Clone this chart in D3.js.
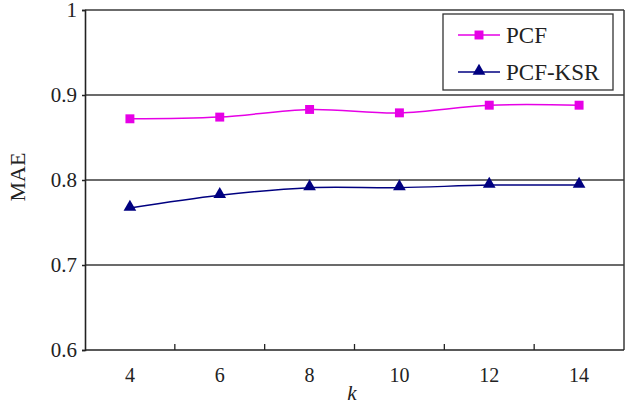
<!DOCTYPE html>
<html>
<head>
<meta charset="utf-8">
<script src="https://cdn.jsdelivr.net/npm/d3@7"></script>
<style>
  body { margin: 0; background: #fff; }
  text { font-family: "Liberation Serif", "DejaVu Serif", serif; fill: #222; }
</style>
</head>
<body>
<script>
// data
var categories = ["4", "6", "8", "10", "12", "14"];
var pcf = [0.872, 0.874, 0.883, 0.879, 0.888, 0.888];
var pcfKsr = [0.767, 0.782, 0.791, 0.791, 0.794, 0.794];
var yTicks = [0.6, 0.7, 0.8, 0.9, 1];
var seriesNames = ["PCF", "PCF-KSR"];

var w = 627, h = 412,
    plotLeft = 85, plotRight = 624, plotTop = 10, plotBottom = 350,
    pcfColor = "#e600e6",
    ksrColor = "#000080",
    gridColor = "#3a3a3a";

var svg = d3.select("body").append("svg")
  .attr("width", w)
  .attr("height", h);

var x = d3.scaleBand().domain(categories).range([plotLeft, plotRight]);
var y = d3.scaleLinear().domain([0.6, 1]).range([plotBottom, plotTop]);

// grid lines
svg.append("g").selectAll("line")
  .data(yTicks.slice(1))
  .enter().append("line")
  .attr("x1", plotLeft).attr("x2", plotRight)
  .attr("y1", function(d) { return y(d); })
  .attr("y2", function(d) { return y(d); })
  .attr("stroke", gridColor)
  .attr("stroke-width", 1.5);

// right border
svg.append("line")
  .attr("x1", plotRight).attr("x2", plotRight)
  .attr("y1", plotTop).attr("y2", plotBottom)
  .attr("stroke", gridColor).attr("stroke-width", 1.5);

// y axis
var yAxis = svg.append("g")
  .attr("transform", "translate(" + plotLeft + ",0)")
  .call(d3.axisLeft(y).tickValues(yTicks).tickSize(3).tickPadding(5)
    .tickFormat(function(d) { return d === 1 ? "1" : d3.format(".1f")(d); }));
yAxis.select(".domain").attr("stroke", "#222").attr("stroke-width", 1.6);
yAxis.selectAll(".tick line").attr("stroke", "#222").attr("stroke-width", 1.5);
yAxis.selectAll("text").style("font-size", "21px").attr("fill", "#222")
  .style("font-family", "Liberation Serif");

// x axis: ticks sit between categories, pointing inward
var xAxis = svg.append("g")
  .attr("transform", "translate(0," + plotBottom + ")");
xAxis.append("line")
  .attr("x1", plotLeft).attr("x2", plotRight)
  .attr("stroke", "#222").attr("stroke-width", 1.6);
xAxis.selectAll(".sep")
  .data(categories.slice(1))
  .enter().append("line")
  .attr("class", "sep")
  .attr("x1", function(d) { return x(d); })
  .attr("x2", function(d) { return x(d); })
  .attr("y1", 0).attr("y2", -6)
  .attr("stroke", "#222").attr("stroke-width", 1.3);
xAxis.selectAll(".lbl")
  .data(categories)
  .enter().append("text")
  .attr("class", "lbl")
  .attr("x", function(d) { return x(d) + x.bandwidth() / 2; })
  .attr("y", 32)
  .attr("text-anchor", "middle")
  .style("font-size", "20px")
  .text(function(d) { return d; });

// axis titles
svg.append("text")
  .attr("x", 352)
  .attr("y", 400)
  .attr("text-anchor", "middle")
  .style("font-size", "21px")
  .style("font-style", "italic")
  .text("k");

svg.append("text")
  .attr("transform", "translate(25,177) rotate(-90)")
  .attr("text-anchor", "middle")
  .style("font-size", "22px")
  .text("MAE");

// lines
var line = d3.line()
  .x(function(d, i) { return x(categories[i]) + x.bandwidth() / 2; })
  .y(function(d) { return y(d); })
  .curve(d3.curveCatmullRom.alpha(0.5));

svg.append("path").datum(pcf)
  .attr("d", line).attr("fill", "none")
  .attr("stroke", pcfColor).attr("stroke-width", 1.5);

svg.append("path").datum(pcfKsr)
  .attr("d", line).attr("fill", "none")
  .attr("stroke", ksrColor).attr("stroke-width", 1.5);

var square = d3.symbol().type(d3.symbolSquare).size(80);
var triangle = d3.symbol().type(d3.symbolTriangle).size(70);

svg.selectAll(".pcfPt")
  .data(pcf)
  .enter().append("path")
  .attr("class", "pcfPt")
  .attr("d", square)
  .attr("fill", pcfColor)
  .attr("transform", function(d, i) {
    return "translate(" + (x(categories[i]) + x.bandwidth() / 2) + "," + y(d) + ")";
  });

svg.selectAll(".ksrPt")
  .data(pcfKsr)
  .enter().append("path")
  .attr("class", "ksrPt")
  .attr("d", triangle)
  .attr("fill", ksrColor)
  .attr("transform", function(d, i) {
    return "translate(" + (x(categories[i]) + x.bandwidth() / 2) + "," + (y(d) - 1) + ")";
  });

// legend
var legend = svg.append("g").attr("transform", "translate(443,14)");
legend.append("rect")
  .attr("width", 170).attr("height", 76)
  .attr("fill", "#fff")
  .attr("stroke", "#333").attr("stroke-width", 1.3);

var legendColors = [pcfColor, ksrColor];
var legendSymbols = [square, triangle];
seriesNames.forEach(function(name, i) {
  var ly = 21 + i * 37;
  legend.append("line")
    .attr("x1", 15).attr("x2", 57)
    .attr("y1", ly).attr("y2", ly)
    .attr("stroke", legendColors[i]).attr("stroke-width", 1.5);
  legend.append("path")
    .attr("d", legendSymbols[i])
    .attr("fill", legendColors[i])
    .attr("transform", "translate(36," + (i === 1 ? ly - 1 : ly) + ")");
  legend.append("text")
    .attr("x", 63).attr("y", ly + 8)
    .style("font-size", "23px")
    .text(name);
});
</script>
</body>
</html>
